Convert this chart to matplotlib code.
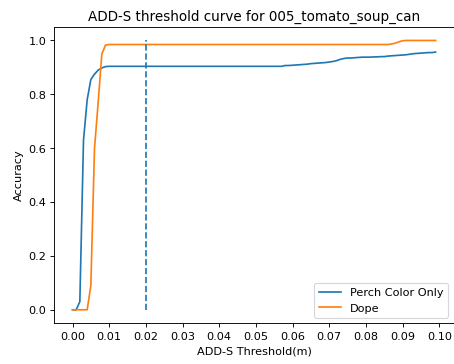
import numpy as np
import matplotlib
matplotlib.use("Agg")
import matplotlib.pyplot as plt

# thresholds 0.000 .. 0.099 in steps of 1mm
thresholds = np.arange(0, 0.1, 0.001)

perch = [
    0.0, 0.0, 0.03, 0.63, 0.78, 0.855, 0.875, 0.89, 0.898, 0.903,
    0.904, 0.904, 0.904, 0.904, 0.904, 0.904, 0.904, 0.904, 0.904, 0.904,
    0.904, 0.904, 0.904, 0.904, 0.904, 0.904, 0.904, 0.904, 0.904, 0.904,
    0.904, 0.904, 0.904, 0.904, 0.904, 0.904, 0.904, 0.904, 0.904, 0.904,
    0.904, 0.904, 0.904, 0.904, 0.904, 0.904, 0.904, 0.904, 0.904, 0.904,
    0.904, 0.904, 0.904, 0.904, 0.904, 0.904, 0.904, 0.904, 0.907, 0.907,
    0.908, 0.909, 0.910, 0.911, 0.912, 0.914, 0.915, 0.916, 0.917, 0.918,
    0.920, 0.922, 0.925, 0.930, 0.933, 0.935, 0.935, 0.936, 0.937, 0.938,
    0.938, 0.938, 0.939, 0.939, 0.940, 0.940, 0.942, 0.943, 0.944, 0.945,
    0.946, 0.947, 0.949, 0.951, 0.952, 0.953, 0.954, 0.955, 0.955, 0.957,
]

dope = [
    0.0, 0.0, 0.0, 0.0, 0.0, 0.09, 0.6, 0.77, 0.95, 0.983,
    0.985, 0.985, 0.985, 0.985, 0.985, 0.985, 0.985, 0.985, 0.985, 0.985,
    0.985, 0.985, 0.985, 0.985, 0.985, 0.985, 0.985, 0.985, 0.985, 0.985,
    0.985, 0.985, 0.985, 0.985, 0.985, 0.985, 0.985, 0.985, 0.985, 0.985,
    0.985, 0.985, 0.985, 0.985, 0.985, 0.985, 0.985, 0.985, 0.985, 0.985,
    0.985, 0.985, 0.985, 0.985, 0.985, 0.985, 0.985, 0.985, 0.985, 0.985,
    0.985, 0.985, 0.985, 0.985, 0.985, 0.985, 0.985, 0.985, 0.985, 0.985,
    0.985, 0.985, 0.985, 0.985, 0.985, 0.985, 0.985, 0.985, 0.985, 0.985,
    0.985, 0.985, 0.985, 0.985, 0.985, 0.985, 0.985, 0.987, 0.990, 0.995,
    0.999, 1.0, 1.0, 1.0, 1.0, 1.0, 1.0, 1.0, 1.0, 1.0,
]

xticks = [0.00, 0.01, 0.02, 0.03, 0.04, 0.05, 0.06, 0.07, 0.08, 0.09, 0.10]
cutoff = 0.02

# original was drawn bigger and shrunk, so render at a lower dpi
dpi = 81
fig = plt.figure(figsize=(454.4 / dpi, 364.4 / dpi), dpi=dpi)
ax = fig.add_axes([0.1196, 0.1118, 0.879, 0.813])

ax.plot(thresholds, perch, label="Perch Color Only")
ax.plot(thresholds, dope, label="Dope")
ax.vlines(cutoff, 0, 1, linestyles="dashed")

ax.set_xticks(xticks)
ax.set_xticklabels(["%.2f" % t for t in xticks])
ax.set_title("ADD-S threshold curve for 005_tomato_soup_can")
ax.set_xlabel("ADD-S Threshold(m)")
ax.set_ylabel("Accuracy")
ax.legend(loc="lower right")

fig.savefig("out.png", dpi=dpi)
